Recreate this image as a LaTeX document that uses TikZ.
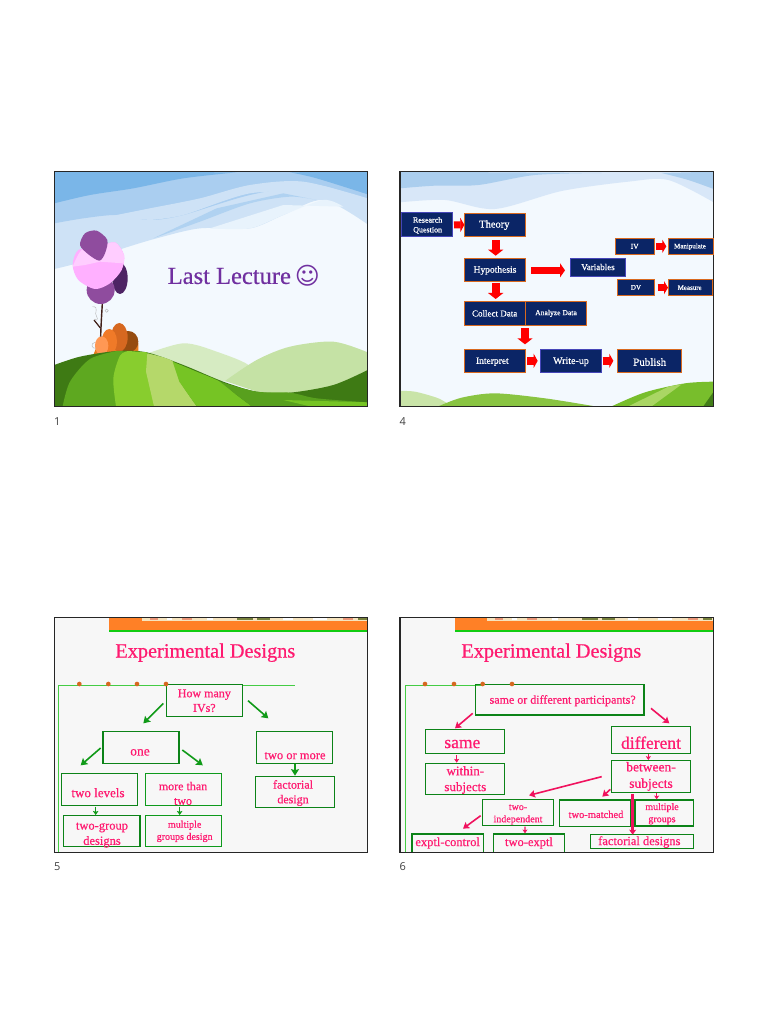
\documentclass[tikz,border=0pt]{standalone}
\usepackage{fontspec}
\setmainfont{Liberation Serif}[RawFeature={embolden=0.6}]
\newfontfamily\labfont{Open Sans}
\newfontfamily\symfont{DejaVu Sans}
\usetikzlibrary{arrows.meta,fit}
\definecolor{navy}{HTML}{0B2566}
\definecolor{boxorange}{HTML}{D9691E}
\definecolor{hotpink}{HTML}{FF1A70}
\definecolor{boxgreen}{HTML}{0E9A1C}
\definecolor{arrgreen}{HTML}{109A18}
\definecolor{arrpink}{HTML}{F0125E}
\definecolor{skybg}{HTML}{F3F9FE}
\definecolor{lecpurple}{RGB}{112,48,160}
\definecolor{barorange}{RGB}{255,128,38}
\definecolor{bargreen}{RGB}{17,204,17}
\definecolor{rulegreen}{RGB}{68,204,68}
\definecolor{dotorange}{RGB}{214,104,32}
\definecolor{stripcream}{RGB}{246,228,190}
\definecolor{stripolive}{RGB}{120,130,60}
\definecolor{stripred}{RGB}{235,150,120}
\newdimen\zskip
\newcommand\zfont[1]{\zskip=#1pt \zskip=1.22\zskip \fontsize{#1}{\the\zskip}\selectfont}
\tikzset{
  zoomat/.style 2 args={shift={(#1,#2)},x=0.33333pt,y=-0.33333pt},
  frame/.style={draw=black!85,line width=1.4pt},
  bx/.style={inner sep=0pt,outer sep=0pt},
  navybox/.style={bx,fill=navy,draw=boxorange,line width=0.8pt},
  bluebox/.style={bx,fill=navy,draw=blue!45!gray,line width=0.8pt},
  gbox/.style={bx,draw=boxgreen,line width=0.8pt},
  gboxb/.style={bx,draw=boxgreen!85!black,line width=1.3pt},
  wtxt/.style={text=white,align=center,inner sep=0pt,yshift=-0.7pt},
  ptxt/.style={text=hotpink,align=center,inner sep=0pt,yshift=-0.7pt},
  ltxt/.style={text=lecpurple,align=center,inner sep=0pt},
  redarr/.style n args={3}{draw=red,line width=#1pt,-{Triangle[length=#2pt,width=#3pt]}},
  garr/.style={draw=arrgreen,line width=1.6pt,-{Stealth[length=6.5pt,width=8pt,inset=1pt]}},
  garrs/.style={draw=arrgreen,line width=1.2pt,-{Stealth[length=4pt,width=5.5pt,inset=0.8pt]}},
  parr/.style={draw=arrpink,line width=1.6pt,-{Stealth[length=6pt,width=7.5pt,inset=1pt]}},
  parrs/.style={draw=arrpink,line width=1.2pt,-{Stealth[length=3.8pt,width=5pt,inset=0.8pt]}},
  parrb/.style={draw=arrpink,line width=2.4pt,-{Stealth[length=5pt,width=7pt,inset=1pt]}},
  numlab/.style={font=\labfont\zfont{11},text=black!75,inner sep=0pt},
}
\newcommand\zb[6]{\node[#2,fit={(#3,#4) (#5,#6)}] (#1) {};}
\newcommand\zt[5]{\node[#2,font=\zfont{#3}] (#1) at (#4) {#5};}
\newcommand\zar[5]{\draw[#1] ([shift={(#3)}]#2) -- ([shift={(#5)}]#4);}
\newcommand\strip{%
  \fill[stripcream] (275,25) rectangle (953,32);
  \foreach \a/\w/\c in {300/25/stripred,350/15/white,395/30/stripred,470/20/white,560/50/stripolive,620/40/stripolive,700/30/white,790/40/white,880/30/stripred,925/25/stripolive}
    {\fill[\c] (\a,25) rectangle ++(\w,5);}
}
\begin{document}
\begin{tikzpicture}[x=1pt,y=-1pt]
\useasboundingbox (0,0) rectangle (768,1024);
\fill[white] (0,0) rectangle (768,1024);
% ---------------- slide 1
\begin{scope}[zoomat={50}{165}]
\begin{scope}
\clip (13,20) rectangle (953,724);
\fill[skybg] (13,20) rectangle (953,724);
\fill[color={rgb,255:red,206;green,226;blue,246}] (13,20) -- plot[smooth] coordinates {(13,312) (100,290) (220,250) (320,220) (450,190) (600,190) (700,150) (820,105) (953,178)} -- (953,20) -- cycle;
\fill[color={rgb,255:red,232;green,243;blue,252}] plot[smooth] coordinates {(480,190) (600,190) (700,150) (820,105) (880,125)} -- (700,120) -- cycle;
\fill[color={rgb,255:red,170;green,206;blue,240}] (13,20) -- plot[smooth] coordinates {(13,175) (100,160) (200,150) (300,165) (400,150) (600,90) (800,60) (953,110)} -- (953,20) -- cycle;
\fill[color={rgb,255:red,176;green,210;blue,241}] plot[smooth] coordinates {(310,220) (450,170) (600,115) (720,95) (800,105)} -- (700,85) -- (500,130) -- cycle;
\fill[color={rgb,255:red,206;green,226;blue,246}] plot[smooth] coordinates {(175,155) (300,130) (450,100) (600,60) (760,50) (953,100)} -- (953,125) -- plot[smooth] coordinates {(800,80) (600,85) (400,150) (300,165)} -- cycle;
\fill[color={rgb,255:red,122;green,182;blue,232}] (13,20) -- plot[smooth] coordinates {(13,115) (120,90) (250,70) (400,40) (560,22)} -- cycle;
\fill[color={rgb,255:red,122;green,182;blue,232}] plot[smooth] coordinates {(720,22) (800,40) (953,88)} -- (953,20) -- cycle;
% hills
\fill[color={rgb,255:red,214;green,235;blue,194}] plot[smooth] coordinates {(280,570) (400,535) (500,560) (600,605) (540,650)} -- (400,640) -- cycle;
\fill[color={rgb,255:red,197;green,226;blue,165}] plot[smooth] coordinates {(525,648) (620,585) (720,545) (850,530) (953,562)} -- (953,690) -- (650,690) -- cycle;
% bush
\fill[color={rgb,255:red,232;green,124;blue,30}] (130,570) -- (265,560) -- (265,535) -- (230,500) -- (150,520) -- cycle;
\fill[color={rgb,255:red,150;green,76;blue,16}] (235,530) ellipse (30 and 32);
\fill[color={rgb,255:red,214;green,104;blue,32}] (208,517) ellipse (25 and 43);
\fill[color={rgb,255:red,240;green,122;blue,40}] (178,530) ellipse (23 and 38);
\fill[color={rgb,255:red,255;green,152;blue,84}] (155,542) ellipse (20 and 28);
% trunk
\draw[color={rgb,255:red,64;green,32;blue,24},line width=1.4pt] (157,415) .. controls (155,450) and (153,480) .. (152,515);
\draw[color={rgb,255:red,64;green,32;blue,24},line width=1.2pt] (132,465) -- (152,490);
\draw[gray!60,line width=0.4pt] (128,425) .. controls (150,425) and (130,445) .. (140,455) .. controls (146,462) and (138,470) .. (135,462);
\draw[gray!60,line width=0.4pt] (170,437) circle (5);
\draw[gray!60,line width=0.4pt] (135,532) .. controls (120,535) and (125,552) .. (138,550);
% foliage
\fill[color={rgb,255:red,78;green,36;blue,100}] (210,340) ellipse (23 and 47);
\fill[color={rgb,255:red,143;green,76;blue,158}] (152,375) ellipse (42 and 42);
\fill[color={rgb,255:red,255;green,176;blue,255}] plot[smooth cycle] coordinates {(68,300) (85,255) (145,245) (195,232) (222,270) (215,315) (180,355) (135,372) (85,345)};
\fill[color={rgb,255:red,255;green,205;blue,255}] plot[smooth] coordinates {(68,305) (95,255) (145,245) (195,232) (222,270) (220,295)} -- (150,290) -- (105,300) -- cycle;
\fill[color={rgb,255:red,143;green,76;blue,158}] plot[smooth cycle] coordinates {(90,240) (105,205) (140,197) (172,225) (165,265) (148,287) (115,268)};
% foreground
\fill[color={rgb,255:red,62;green,122;blue,20}] plot[smooth] coordinates {(13,600) (90,575) (200,558) (290,562) (400,600) (520,650) (620,680) (720,683) (850,660) (953,615)} -- (953,724) -- (13,724) -- cycle;
\fill[color={rgb,255:red,94;green,168;blue,32}] plot[smooth] coordinates {(38,724) (60,650) (120,582) (200,558)} -- (290,562) -- (600,724) -- cycle;
\fill[color={rgb,255:red,136;green,205;blue,46}] plot[smooth] coordinates {(198,724) (190,640) (210,572) (235,558)} -- (290,562) -- (320,724) -- cycle;
\fill[color={rgb,255:red,181;green,216;blue,106}] plot[smooth] coordinates {(292,565) (370,590) (390,650) (440,724)} -- (312,724) -- (288,620) -- cycle;
\fill[color={rgb,255:red,118;green,196;blue,36}] plot[smooth] coordinates {(368,590) (440,620) (510,650) (560,690) (605,724)} -- (440,724) -- (388,650) -- cycle;
\fill[color={rgb,255:red,88;green,160;blue,30}] plot[smooth] coordinates {(510,650) (620,680) (720,683) (800,700) (953,712)} -- (953,724) -- (605,724) -- (560,690) -- cycle;
\fill[color={rgb,255:red,118;green,196;blue,36}] (700,705) -- (953,712) -- (953,724) -- (780,724) -- cycle;
\end{scope}
\draw[frame] (13,20) rectangle (953,724);
\zt{t1}{ltxt}{24.5}{538,333}{Last Lecture}
\node[text=lecpurple,font=\symfont\zfont{24},inner sep=0pt] (t1s) at (772,333) {☺};
\node[numlab] (l1) at (22,769) {1};
\end{scope}
% ---------------- slide 4
\begin{scope}[zoomat={395}{165}]
\begin{scope}
\clip (15,20) rectangle (956,724);
\fill[skybg] (15,20) rectangle (956,724);
\fill[color={rgb,255:red,216;green,231;blue,248}] (15,20) -- plot[smooth] coordinates {(15,112) (150,105) (300,132) (500,78) (700,50) (820,45) (956,112)} -- (956,20) -- cycle;
\fill[color={rgb,255:red,171;green,206;blue,238}] (15,20) -- plot[smooth] coordinates {(15,70) (120,62) (250,60) (420,30) (620,24)} -- cycle;
\fill[color={rgb,255:red,171;green,206;blue,238}] plot[smooth] coordinates {(800,24) (880,45) (956,72)} -- (956,20) -- cycle;
\fill[color={rgb,255:red,201;green,228;blue,168}] plot[smooth] coordinates {(15,678) (60,680) (130,700) (170,724)} -- (15,724) -- cycle;
\fill[color={rgb,255:red,137;green,196;blue,66}] plot[smooth] coordinates {(130,724) (200,698) (300,685) (450,700) (600,724)} -- cycle;
\fill[color={rgb,255:red,120;green,190;blue,44}] plot[smooth] coordinates {(650,724) (750,682) (870,655) (956,650)} -- (956,724) -- cycle;
\fill[color={rgb,255:red,170;green,214;blue,100}] (700,724) -- (820,665) -- (860,658) -- (770,724) -- cycle;
\fill[color={rgb,255:red,66;green,125;blue,24}] (925,724) -- (956,680) -- (956,724) -- cycle;
\end{scope}
\draw[frame] (15,20) rectangle (956,724);
\zb{rq}{bluebox}{20}{142}{173}{214}
\zb{th}{navybox}{208}{145}{391}{214}
\zb{hy}{navybox}{208}{280}{391}{349}
\zb{cd}{navybox}{208}{410}{391}{482}
\zb{ad}{navybox}{391}{410}{575}{482}
\zb{ip}{navybox}{208}{554}{391}{621}
\zb{wu}{bluebox}{436}{554}{618}{621}
\zb{pb}{navybox}{668}{554}{858}{621}
\zb{va}{bluebox}{527}{280}{692}{334}
\zb{iv}{navybox}{662}{220}{777}{268}
\zb{mp}{navybox}{819}{220}{955}{268}
\zb{dv}{navybox}{668}{344}{777}{392}
\zb{ms}{navybox}{819}{344}{952}{392}
\zt{rqt}{wtxt}{8}{98,179}{Research\\Question}
\zt{tht}{wtxt}{10.5}{298,178}{Theory}
\zt{hyt}{wtxt}{9.5}{300,314}{Hypothesis}
\zt{cdt}{wtxt}{9}{299,443}{Collect Data}
\zt{adt}{wtxt}{7.6}{483,443}{Analyze Data}
\zt{ipt}{wtxt}{9.5}{292,588}{Interpret}
\zt{wut}{wtxt}{10}{528,588}{Write-up}
\zt{pbt}{wtxt}{11}{764,589}{Publish}
\zt{vat}{wtxt}{9}{609,304}{Variables}
\zt{ivt}{wtxt}{7.5}{719,242}{IV}
\zt{mpt}{wtxt}{7}{885,243}{Manipulate}
\zt{dvt}{wtxt}{7}{723,365}{DV}
\zt{mst}{wtxt}{7}{884,366}{Measure}
\zar{redarr={7}{4}{14}}{rq.east}{4,2}{th.west}{0,0}
\zar{redarr={8}{6}{15}}{th.south}{2.5,12}{hy.north}{2.5,-8}
\zar{redarr={8}{6}{15}}{hy.south}{2.5,6}{cd.north}{2.5,-8}
\zar{redarr={7}{5}{14}}{hy.east}{17,1.5}{va.west}{-17,9}
\zar{redarr={8}{6}{15}}{cd.south east}{-1,8}{ip.north east}{-1,-16}
\zar{redarr={8}{4}{14}}{ip.east}{6,0}{wu.west}{-8,0}
\zar{redarr={8}{4}{14}}{wu.east}{5,0}{pb.west}{-13,0}
\zar{redarr={7}{4}{13}}{iv.east}{6,0}{mp.west}{-5,0}
\zar{redarr={7}{4}{13}}{dv.east}{11,0}{ms.west}{0,0}
\node[numlab] (l4) at (23,769) {4};
\end{scope}
% ---------------- slide 5
\begin{scope}[zoomat={50}{610}]
\fill[black!3] (13,22) rectangle (953,727);
\fill[barorange] (176,25) rectangle (953,60);
\fill[bargreen] (176,60) rectangle (953,67);
\strip
\draw[rulegreen,line width=0.8pt] (25,725) -- (25,226) -- (735,226);
\draw[frame] (13,22) rectangle (953,727);
\zt{t5}{ptxt}{20.3}{466,126}{Experimental Designs}
\zb{q}{gboxb,fill=black!3}{349}{223}{578}{319}
\zb{one}{gboxb}{159}{365}{387}{460}
\zb{tom}{gboxb}{620}{365}{848}{460}
\zb{tl}{gboxb}{35}{490}{263}{586}
\zb{mt}{gbox}{285}{490}{514}{586}
\zb{tg}{gboxb}{41}{616}{270}{710}
\zb{mg}{gbox}{285}{616}{514}{710}
\zb{fd}{gboxb}{616}{500}{854}{593}
\foreach \a in {88,175,261,348} {\fill[dotorange] (\a,222) circle (7);}
\zt{qt}{ptxt}{12}{463,270}{How many\\IVs?}
\zt{onet}{ptxt}{13.5}{270,425}{one}
\zt{tomt}{ptxt}{12.5}{735,435}{two or more}
\zt{tlt}{ptxt}{13}{144,546}{two levels}
\zt{mtt}{ptxt}{12}{399,548}{more than\\two}
\zt{tgt}{ptxt}{12.5}{156,673}{two-group\\designs}
\zt{mgt}{ptxt}{10}{404,662}{multiple\\groups design}
\zt{fdt}{ptxt}{12}{729,547}{factorial\\design}
\zar{garr}{q.west}{-9,9}{one.north}{7,-25}
\zar{garr}{q.east}{16,1}{tom.north}{-79,-40}
\zar{garr}{one.west}{-7,1.5}{tl.north}{-57,-24}
\zar{garr}{one.east}{10,7.5}{mt.north}{59,-24}
\zar{garr}{tom.south}{1,2}{fd.north}{0,-3}
\zar{garrs}{tl.south}{-12,4}{tg.north}{-18.5,-1}
\zar{garrs}{mt.south}{-10.5,4}{mg.north}{-10.5,-1}
\node[numlab] (l5) at (22,769) {5};
\end{scope}
% ---------------- slide 6
\begin{scope}[zoomat={395}{610}]
\fill[black!3] (15,22) rectangle (956,727);
\fill[barorange] (180,25) rectangle (956,60);
\fill[bargreen] (180,60) rectangle (956,67);
\strip
\draw[rulegreen,line width=0.8pt] (30,725) -- (30,226) -- (260,226);
\zt{t6}{ptxt}{20.3}{469,126}{Experimental Designs}
\zb{sd}{gboxb}{241}{224}{747}{315}
\zb{sa}{gboxb}{91}{358}{329}{430}
\zb{wi}{gboxb}{91}{461}{329}{553}
\zb{di}{gboxb}{650}{349}{886}{430}
\zb{be}{gboxb}{650}{452}{886}{547}
\zb{ti}{gboxb}{263}{569}{476}{647}
\zb{tm}{gboxb}{494}{570}{706}{650}
\zb{mu}{gboxb}{720}{570}{895}{648}
\foreach \a in {90,177,263,351} {\fill[dotorange] (\a,222) circle (7);}
\begin{scope}
\clip (15,22) rectangle (956,727);
\zb{ec}{gboxb}{51}{672}{265}{740}
\zb{te}{gboxb}{296}{672}{509}{740}
\end{scope}
\zb{fa}{gboxb}{587}{674}{895}{716}
\draw[frame] (15,22) rectangle (956,727);
\zt{sdt}{ptxt}{12}{503,270}{same or different participants?}
\zt{sat}{ptxt}{17.5}{202,400}{same}
\zt{wit}{ptxt}{13}{211,508}{within-\\subjects}
\zt{dit}{ptxt}{17.5}{768,396}{different}
\zt{bet}{ptxt}{13.5}{768,497}{between-\\subjects}
\zt{tit}{ptxt}{10}{369,611}{two-\\independent}
\zt{tmt}{ptxt}{10.5}{603,611}{two-matched}
\zt{mut}{ptxt}{10}{801,609}{multiple\\groups}
\zt{ect}{ptxt}{12.5}{158,697}{exptl-control}
\zt{tet}{ptxt}{12.5}{402,697}{two-exptl}
\zt{fat}{ptxt}{12.5}{733,694}{factorial designs}
\zar{parr}{sd.west}{-8,40.5}{sa.north}{-30,-3}
\zar{parr}{sd.east}{21,25.5}{di.north}{55,-9}
\zar{parrs}{sa.south}{-25,5}{wi.north}{-25,-3}
\zar{parrs}{di.south}{-8,2}{be.north}{-8,-2}
\zar{parr}{be.west}{-30,0.5}{ti.north}{32.5,-13}
\zar{parr}{be.west}{-4,38.5}{tm.north}{22,-10}
\zar{parrs}{be.south}{17,1}{mu.north}{-22.5,-2}
\zar{parrb}{be.south}{-55,5}{fa.north}{-28,0}
\zar{parr}{ti.west}{-6,9}{ec.north}{46,-16}
\zar{parrs}{ti.south}{20.5,3}{te.north}{-12.5,-2}
\node[numlab] (l6) at (23,769) {6};
\end{scope}
\end{tikzpicture}
\end{document}
